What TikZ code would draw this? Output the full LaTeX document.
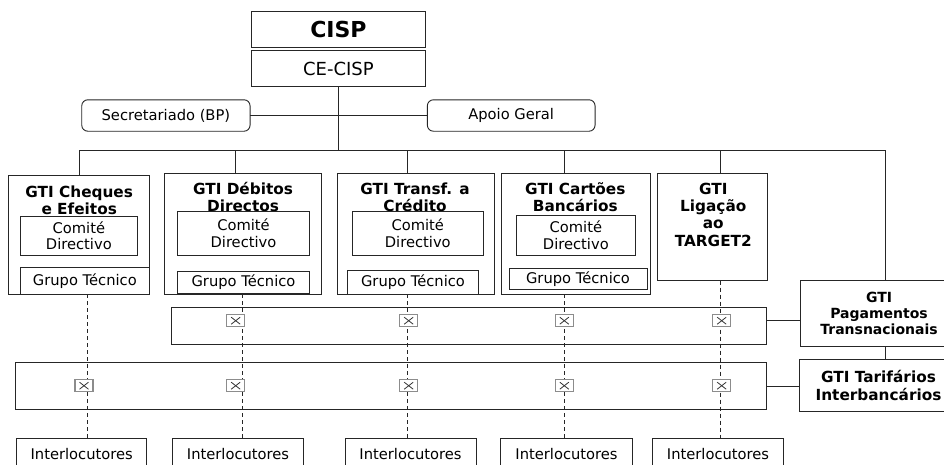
\documentclass[tikz,border=0pt]{standalone}
\usepackage{fontspec}
\setmainfont{DejaVu Sans}
\newcommand\dgnorm{\fontsize{14.7}{16.5}\selectfont}
\newcommand\dgbold{\fontsize{15.3}{17.2}\selectfont\bfseries}
\newcommand\dgpag{\fontsize{14}{16.4}\selectfont\bfseries}
\newcommand\dgcisp{\fontsize{22}{24}\selectfont\bfseries}
\newcommand\dgce{\fontsize{18}{20}\selectfont}
\begin{document}
\begin{tikzpicture}[x=1pt,y=-1pt,line width=0.9pt,
  every node/.style={inner sep=0pt,outer sep=0pt,font=\dgnorm},
  sz/.style 2 args={minimum width=#1pt,minimum height=#2pt},
  bx/.style={draw=black!85,rectangle,align=center},
  rbx/.style={draw=black!85,rectangle,rounded corners=6pt,align=center},
  tt/.style={font=\dgbold,align=center},
  conn/.style={draw=black!85},
  dsh/.style={draw=black!85,dash pattern=on 4pt off 3pt},
  chk/.style={rectangle,draw=gray!90,fill=white,line width=1.1pt,
    minimum width=18pt,minimum height=12pt,
    path picture={\draw[black!80,line width=0.8pt]
      ([xshift=4.5pt,yshift=2.5pt]path picture bounding box.south west) --
      ([xshift=-4.5pt,yshift=-2.5pt]path picture bounding box.north east);
      \draw[black!80,line width=0.8pt]
      ([xshift=4.5pt,yshift=-2.5pt]path picture bounding box.north west) --
      ([xshift=-4.5pt,yshift=2.5pt]path picture bounding box.south east);}}]
\fill[white] (0,0) rectangle (944,464);
\useasboundingbox (0,0) rectangle (944,464);

% top
\node[bx,font=\dgcisp,sz={173.3}{35.6}] (cisp) at (338.4,29.5) {CISP};
\node[bx,font=\dgce,sz={173.3}{36}] (ce) at (338.4,68.7) {CE-CISP};
\node[rbx,sz={168.3}{31.4}] (sec) at (165.9,115.5) {Secretariado (BP)};
\node[rbx,sz={167.7}{31.4}] (apo) at (511.2,115.5) {Apoio Geral};
\draw[conn] (sec) -- (apo);
\coordinate (bus) at (338.4,150);
\coordinate (busL) at (79,150);
\coordinate (busR) at (885,150);
\draw[conn] (ce.south) -- (bus);
\draw[conn] (busL) -- (busR);

% GTI boxes
\node[bx,sz={141.4}{119.3}] (cheq) at (79,234.65) {};
\node[bx,sz={157}{121}] (deb) at (243.2,233.8) {};
\node[bx,sz={156.7}{121}] (trf) at (415.65,233.8) {};
\node[bx,sz={148.3}{121}] (cart) at (575.85,233.8) {};
\node[bx,sz={110}{107.4}] (tgt) at (712.7,227) {};

\node[tt] (cheqT) at (79.2,200) {GTI Cheques\\e Efeitos};
\node[tt] (debT) at (243,197) {GTI Débitos\\Directos};
\node[tt] (trfT) at (415,197) {GTI Transf. a\\Crédito};
\node[tt] (cartT) at (575.3,197.5) {GTI Cartões\\Bancários};
\node[tt] (tgtT) at (713.3,214.8) {GTI\\Ligação\\ao\\TARGET2};

\node[bx,sz={117.7}{38.3}] (cheqC) at (78.85,235.85) {Comité\\Directivo};
\node[bx,sz={129.7}{26.6}] (cheqG) at (84.85,281) {Grupo Técnico};
\node[bx,sz={131.6}{43.3}] (debC) at (243.5,233.35) {Comité\\Directivo};
\node[bx,sz={131.6}{22.3}] (debG) at (243.5,282.15) {Grupo Técnico};
\node[bx,sz={131}{43.3}] (trfC) at (417.8,233.35) {Comité\\Directivo};
\node[bx,sz={130.6}{23.6}] (trfG) at (413,282.5) {Grupo Técnico};
\node[bx,sz={118.3}{39.3}] (cartC) at (575.85,235.35) {Comité\\Directivo};
\node[bx,sz={138}{21}] (cartG) at (578,278.8) {Grupo Técnico};

% drops from bus
\foreach \x/\n in {79/cheq,235/deb,407/trf,564/cart,720.7/tgt}{
  \coordinate (d\n) at (\x,150);
  \draw[conn] (d\n) -- (d\n |- \n.north);
}

% right side
\node[bx,font=\dgpag,sz={158}{65.3}] (pag) at (879,313.35) {GTI\\Pagamentos\\Transnacionais};
\node[bx,font=\dgbold,sz={159}{52.4}] (tar) at (878.5,385.5) {GTI Tarifários\\Interbancários};
\draw[conn] (busR) -- (busR |- pag.north);
\draw[conn] (busR |- pag.south) -- (busR |- tar.north);

% bands
\node[bx,sz={595}{36.7}] (band1) at (469.2,325.65) {};
\node[bx,sz={751}{46.7}] (band2) at (391.2,385.65) {};
\coordinate (b1c) at (766.7,320.7);
\coordinate (b2c) at (766.7,386);
\draw[conn] (b1c) -- (b1c -| pag.west);
\draw[conn] (b2c) -- (b2c -| tar.west);

% interlocutores
\foreach \i/\cx/\w in {1/81.7/130,2/238/130.6,3/410.5/131,4/566.5/131.6,5/718/130.6}{
  \node[bx,sz={\w}{31.7}] (int\i) at (\cx,454.15) {Interlocutores};
}

% dashed lines
\foreach \x/\n/\i in {87/cheq/1,242.7/deb/2,407.3/trf/3,564/cart/4,720.7/tgt/5}{
  \coordinate (v\i) at (\x,300);
  \draw[dsh] (v\i |- \n.south) -- (v\i |- int\i.north);
}

% check boxes
\node[chk] (k21) at (84,385.7) {};
\node[chk] (k22) at (235.7,385.7) {};
\node[chk] (k23) at (408.7,385.7) {};
\node[chk] (k24) at (564.3,385.7) {};
\node[chk] (k25) at (721.7,385.7) {};
\node[chk] (k12) at (235.7,320.7) {};
\node[chk] (k13) at (408.7,320.7) {};
\node[chk] (k14) at (564.3,320.7) {};
\node[chk] (k15) at (721.7,320.7) {};
\end{tikzpicture}
\end{document}
